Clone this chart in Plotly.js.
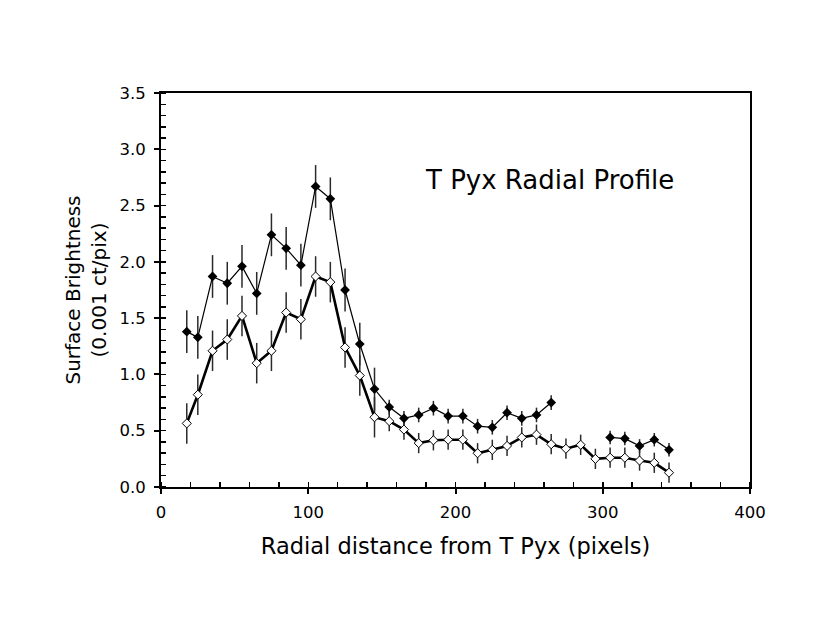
<!DOCTYPE html>
<html>
<head>
<meta charset="utf-8">
<script src="https://cdn.plot.ly/plotly-3.0.1.min.js"></script>
<style>
  html, body { margin: 0; padding: 0; background: #ffffff; }
  #chart { width: 830px; height: 642px; }
</style>
</head>
<body>
<div id="chart"></div>
<script>
// radial distance (pixels) of each ring
const radius = [17.5, 25, 35, 45, 55, 65, 75, 85, 95, 105, 115, 125, 135, 145, 155,
                165, 175, 185, 195, 205, 215, 225, 235, 245, 255, 265, 275, 285, 295,
                305, 315, 325, 335, 345];

// filled diamonds (upper profile); null = no measurement
const upperProfile = [1.38, 1.33, 1.87, 1.81, 1.96, 1.72, 2.24, 2.12, 1.97, 2.67, 2.56, 1.75, 1.27, 0.87, 0.71,
                      0.61, 0.64, 0.70, 0.63, 0.63, 0.54, 0.53, 0.66, 0.61, 0.64, 0.75, null, null, null,
                      0.44, 0.43, 0.365, 0.42, 0.33];
const upperError = [0.19, 0.19, 0.19, 0.19, 0.19, 0.19, 0.19, 0.19, 0.19, 0.19, 0.19, 0.19, 0.19, 0.19, 0.065,
                    0.065, 0.065, 0.065, 0.065, 0.065, 0.065, 0.065, 0.065, 0.065, 0.065, 0.065, 0, 0, 0,
                    0.06, 0.06, 0.06, 0.06, 0.06];

// open diamonds (lower profile)
const lowerProfile = [0.565, 0.82, 1.21, 1.31, 1.52, 1.10, 1.21, 1.55, 1.49, 1.87, 1.82, 1.24, 0.99, 0.62, 0.585,
                      0.51, 0.39, 0.415, 0.42, 0.42, 0.30, 0.33, 0.365, 0.44, 0.465, 0.38, 0.34, 0.375, 0.25,
                      0.26, 0.26, 0.235, 0.215, 0.127];
const lowerError = [0.18, 0.18, 0.18, 0.18, 0.18, 0.18, 0.18, 0.18, 0.18, 0.18, 0.18, 0.18, 0.18, 0.18, 0.09,
                    0.09, 0.09, 0.09, 0.09, 0.09, 0.09, 0.09, 0.09, 0.09, 0.09, 0.09, 0.09, 0.09, 0.09,
                    0.09, 0.09, 0.09, 0.09, 0.09];

const FONT = 'DejaVu Sans, Verdana, sans-serif';

const traceLower = {
    x: radius,
    y: lowerProfile,
    type: 'scatter',
    mode: 'lines+markers',
    line: { color: '#000000', width: 2.6 },
    marker: { symbol: 'diamond', size: 7, color: '#ffffff', line: { color: '#000000', width: 1 } },
    error_y: { type: 'data', array: lowerError, visible: true, color: '#2a2a2a', thickness: 1.5, width: 0 }
};

const traceUpper = {
    x: radius,
    y: upperProfile,
    type: 'scatter',
    mode: 'lines+markers',
    connectgaps: false,
    line: { color: '#000000', width: 1.2 },
    marker: { symbol: 'diamond', size: 7.5, color: '#000000' },
    error_y: { type: 'data', array: upperError, visible: true, color: '#2a2a2a', thickness: 1.5, width: 0 }
};

// inner half of the major ticks, so they cross the axis line
const innerTicks = {
    showgrid: false, zeroline: false, showline: false, showticklabels: false,
    ticks: 'inside', ticklen: 5, tickwidth: 2, tickcolor: '#000000'
};

const layout = {
    width: 830,
    height: 642,
    paper_bgcolor: '#ffffff',
    plot_bgcolor: '#ffffff',
    margin: { l: 161, r: 80, t: 93, b: 155 },
    showlegend: false,
    font: { family: FONT, color: '#000000' },
    xaxis: {
        range: [0, 400],
        dtick: 100,
        showgrid: false,
        zeroline: false,
        showline: true,
        mirror: true,
        linecolor: '#000000',
        linewidth: 2,
        ticks: 'outside',
        ticklen: 5,
        tickwidth: 2,
        tickcolor: '#000000',
        ticklabelstandoff: 4,
        minor: { dtick: 20, ticks: 'inside', ticklen: 5, tickwidth: 1.5, tickcolor: '#000000', showgrid: false },
        tickfont: { family: FONT, size: 16.5, color: '#000000' },
        title: { text: 'Radial distance from T Pyx (pixels)', font: { family: FONT, size: 22.5, color: '#000000' }, standoff: 17 }
    },
    xaxis2: Object.assign({ overlaying: 'x', range: [0, 400], dtick: 100 }, innerTicks),
    yaxis: {
        range: [0, 3.5],
        dtick: 0.5,
        tickformat: '.1f',
        showgrid: false,
        zeroline: false,
        showline: true,
        mirror: true,
        linecolor: '#000000',
        linewidth: 2,
        ticks: 'outside',
        ticklen: 5,
        tickwidth: 2,
        tickcolor: '#000000',
        ticklabelstandoff: 5,
        minor: { dtick: 0.1, ticks: 'inside', ticklen: 5, tickwidth: 1.5, tickcolor: '#000000', showgrid: false },
        tickfont: { family: FONT, size: 16.5, color: '#000000' },
        title: { text: 'Surface Brightness<br>(0.001 ct/pix)', font: { family: FONT, size: 20, color: '#000000' }, standoff: 7 }
    },
    yaxis2: Object.assign({ overlaying: 'y', range: [0, 3.5], dtick: 0.5 }, innerTicks),
    annotations: [{
        text: 'T Pyx Radial Profile',
        x: 263.5,
        y: 2.73,
        xref: 'x',
        yref: 'y',
        showarrow: false,
        font: { family: FONT, size: 26, color: '#000000' }
    }]
};

Plotly.newPlot('chart', [traceLower, traceUpper], layout, { displayModeBar: false, staticPlot: true });
</script>
</body>
</html>
